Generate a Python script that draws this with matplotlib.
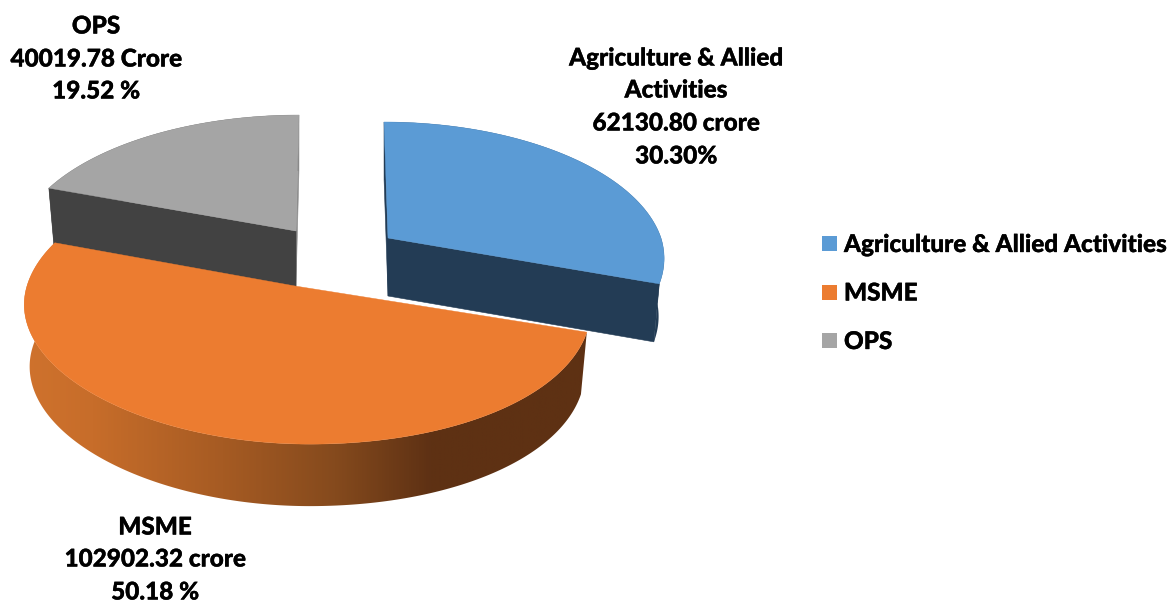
import numpy as np
import matplotlib
matplotlib.use("Agg")
import matplotlib.pyplot as plt
import matplotlib.patheffects as pe
from matplotlib.colors import LinearSegmentedColormap
from matplotlib.patches import Polygon, Rectangle

# Sector outstanding amounts (crore)
categories = ["Agriculture & Allied Activities", "MSME", "OPS"]
values = [62130.80, 102902.32, 40019.78]

slice_labels = [
    ["Agriculture & Allied", "Activities", "62130.80 crore", "30.30%"],
    ["MSME", "102902.32 crore", "50.18 %"],
    ["OPS", "40019.78 Crore", "19.52 %"],
]

top_colors = ["#5B9BD5", "#EC7C30", "#A5A5A5"]
rim_colors = ["#233C55", None, "#424242"]
FONT = "Lato"
TEXT_SIZE = 17.5
HEAVY = [pe.withStroke(linewidth=0.25, foreground="black")]

# Per-slice placement of the exploded pie on the canvas
styles = [
    dict(apex=(388, 238), rx_left=273, rx_right=273, lean=4, ry=133.4, depth=58, front_shift=0,
         start_wall="#233C55", end_wall="#233C55"),
    dict(apex=(295, 286), rx_left=268, rx_right=292, lean=0, ry=134.4, depth=62, front_shift=15,
         start_wall=None, end_wall=None),
    dict(apex=(296, 231), rx_left=277, rx_right=277, lean=-3, ry=133.4, depth=56, front_shift=0,
         start_wall="#424242", end_wall="#8C8C8C"),
]
TILT = 0.15         # perspective strength, front edge appears larger
BASE_SCALE = 0.98   # lower face recedes a little horizontally


def project(style, theta, lower=False):
    """Map clockwise-from-top angles (degrees) to canvas positions."""
    t = np.radians(theta)
    u, v = np.sin(t), -np.cos(t)
    s = 1.0 / (1.0 - TILT * v)
    rx = np.where(u >= 0, style["rx_right"], style["rx_left"])
    dx = rx * u * s - style["lean"] * np.minimum(-v, 1) * (v < 0)
    dx = dx + style["front_shift"] * np.clip(v, 0, 1) ** 2
    dy = style["ry"] * v * s
    scale = BASE_SCALE if lower else 1.0
    return (style["apex"][0] + dx * scale,
            style["apex"][1] + dy + (style["depth"] if lower else 0))


def apex_point(style, lower=False):
    return style["apex"][0], style["apex"][1] + (style["depth"] if lower else 0)


def quad(style, angle):
    x0, y0 = project(style, np.array([angle]))
    x1, y1 = project(style, np.array([angle]), lower=True)
    ax_, ay_ = apex_point(style)
    bx_, by_ = apex_point(style, lower=True)
    return [(x0[0], y0[0]), (x1[0], y1[0]), (bx_, by_), (ax_, ay_)]


fractions = np.array(values) / np.sum(values)
edges = np.concatenate([[0.0], np.cumsum(fractions) * 360.0])

fig = plt.figure(figsize=(11.72, 6.03), dpi=100)
ax = fig.add_axes([0, 0, 1, 1])
ax.axis("off")

brown_shade = LinearSegmentedColormap.from_list(
    "rim_shade",
    [(0.0, "#CF722D"), (0.12, "#C76D2A"), (0.35, "#A65B23"),
     (0.55, "#854A1D"), (0.72, "#5E3114"), (1.0, "#5E3113")],
)

# Back slices first so the large front slice sits over their walls
for i in [2, 0, 1]:
    st = styles[i]
    theta = np.linspace(edges[i], edges[i + 1], 240)
    xt, yt = project(st, theta)
    xb, yb = project(st, theta, lower=True)
    outer = np.column_stack([np.r_[xt, xb[::-1]], np.r_[yt, yb[::-1]]])

    if rim_colors[i] is not None:
        ax.add_patch(Polygon(outer, closed=True, fc=rim_colors[i], ec="none", zorder=i + 1))
    else:
        rim = Polygon(outer, closed=True, fc="none", ec="none", zorder=4)
        ax.add_patch(rim)
        gradient = np.linspace(0, 1, 600).reshape(1, -1)
        img = ax.imshow(gradient, cmap=brown_shade, aspect="auto",
                        extent=(24, 590, 520, 240), zorder=4)
        img.set_clip_path(rim)

    for angle, colour in ((edges[i + 1], st["end_wall"]), (edges[i], st["start_wall"])):
        if colour is not None:
            ax.add_patch(Polygon(quad(st, angle), closed=True, fc=colour, ec=colour,
                                 lw=0.4, zorder=i + 1))

    ax_pt = apex_point(st)
    top = np.vstack([[ax_pt], np.column_stack([xt, yt])])
    ax.add_patch(Polygon(top, closed=True, fc=top_colors[i], ec=top_colors[i], lw=0.3,
                         zorder=5 if i == 1 else i + 1.5))

# Data labels
label_centres = [676, 155, 96]
label_lines = [[58, 90, 123, 156], [527, 559, 592], [26, 59, 91]]
for lines, cx, ys in zip(slice_labels, label_centres, label_lines):
    for line, y in zip(lines, ys):
        ax.text(cx, y, line, ha="center", va="center", family=FONT,
                fontweight=900, fontsize=TEXT_SIZE, color="black", zorder=10,
                path_effects=HEAVY)

# Legend
for name, colour, y in zip(categories, top_colors, [243.5, 292, 340.5]):
    ax.add_patch(Rectangle((822, y - 7.5), 15, 15, fc=colour, ec="none", zorder=10))
    ax.text(844, y + 1, name, ha="left", va="center", family=FONT,
            fontweight=900, fontsize=TEXT_SIZE, color="black", zorder=10,
            path_effects=HEAVY)

ax.set_xlim(0, 1172)
ax.set_ylim(603, 0)
fig.savefig("out.png", dpi=100, facecolor="white")
